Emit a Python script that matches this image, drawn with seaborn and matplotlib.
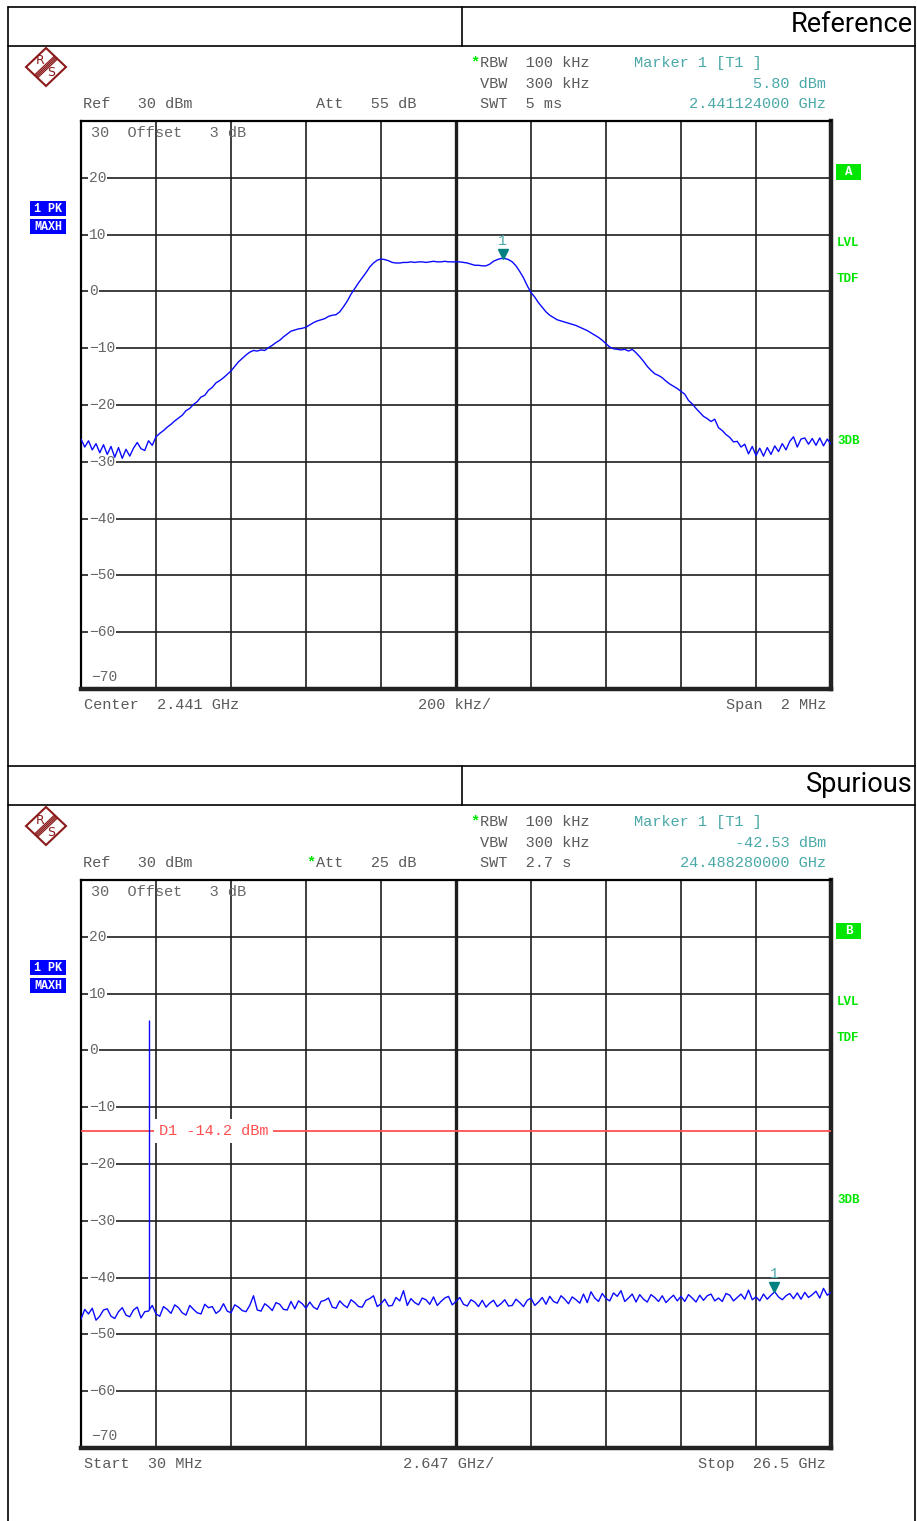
import numpy as np
import matplotlib.pyplot as plt
import seaborn as sns
from matplotlib.patches import Polygon, Rectangle
from matplotlib.lines import Line2D

W, H = 917, 1521

# ---------------- data: in-band "Reference" sweep (201 points over the span) ---------------- #
ref_center_ghz = 2.441
ref_span_ghz = 0.002
ref_level_dbm = [
    -26.0, -27.4, -26.3, -27.9, -26.8, -28.4, -27.0, -28.7, -27.3, -29.2,
    -27.5, -29.4, -27.8, -29.0, -27.6, -26.6, -27.7, -28.0, -26.3, -27.1,
    -25.6, -25.0, -24.5, -23.9, -23.4, -22.8, -22.3, -21.8, -21.0, -20.6,
    -19.9, -19.4, -18.6, -18.3, -17.4, -16.9, -16.1, -15.7, -15.2, -14.6,
    -14.0, -13.2, -12.4, -11.8, -11.2, -10.7, -10.4, -10.5, -10.3, -10.4,
    -9.9, -9.5, -9.0, -8.6, -8.0, -7.5, -7.0, -6.8, -6.6, -6.5,
    -6.3, -5.9, -5.5, -5.2, -5.0, -4.8, -4.4, -4.2, -4.1, -3.6,
    -2.7, -1.7, -0.5, 0.5, 1.5, 2.4, 3.3, 4.3, 5.0, 5.5,
    5.7, 5.6, 5.4, 5.1, 5.0, 5.0, 5.1, 5.1, 5.2, 5.1,
    5.2, 5.2, 5.1, 5.2, 5.3, 5.2, 5.2, 5.3, 5.2, 5.2,
    5.2, 5.2, 5.1, 5.0, 4.8, 4.6, 4.6, 4.5, 4.5, 4.8,
    5.3, 5.6, 5.8, 5.8, 5.6, 5.2, 4.5, 3.5, 2.4, 1.0,
    -0.2, -1.0, -2.0, -2.8, -3.6, -4.2, -4.6, -5.0, -5.2, -5.4,
    -5.6, -5.8, -6.0, -6.3, -6.6, -6.9, -7.3, -7.7, -8.1, -8.6,
    -9.2, -9.8, -10.1, -10.2, -10.3, -10.2, -10.5, -10.2, -10.8, -11.5,
    -12.3, -13.2, -13.9, -14.5, -14.8, -15.2, -15.8, -16.3, -16.7, -17.1,
    -17.6, -18.1, -19.2, -19.8, -20.6, -21.3, -22.0, -22.4, -22.9, -22.5,
    -24.0, -24.5, -25.2, -25.7, -26.5, -26.4, -27.4, -26.9, -28.6, -27.3,
    -28.9, -27.6, -29.0, -27.5, -28.7, -27.2, -28.2, -26.8, -27.9, -26.4,
    -25.6, -27.4, -26.0, -25.8, -26.9, -25.9, -27.1, -25.8, -27.2, -26.0,
    -26.9,
]
ref_marker_ghz = 2.441124
ref_marker_dbm = 5.80

# ---------------- data: "Spurious" sweep (noise floor, 201 points) ---------------- #
spur_start_ghz = 0.03
spur_stop_ghz = 26.5
spur_level_dbm = [
    -47.3, -45.6, -46.4, -45.4, -47.5, -46.8, -45.7, -45.5, -46.8, -47.2,
    -46.0, -45.3, -46.6, -46.9, -45.7, -45.2, -47.1, -46.0, -45.9, -44.9,
    -46.4, -46.8, -45.1, -45.6, -46.3, -44.8, -45.3, -46.2, -46.6, -44.9,
    -45.6, -46.2, -46.4, -44.7, -45.3, -45.1, -46.3, -45.8, -44.6, -45.9,
    -46.2, -44.8, -45.2, -45.8, -46.0, -44.9, -43.2, -45.7, -45.9, -44.6,
    -45.1, -45.8, -44.4, -44.7, -45.6, -45.7, -44.2, -45.5, -44.1, -44.6,
    -45.4, -44.3, -45.2, -45.6, -44.2, -44.0, -43.6, -45.2, -45.4, -44.1,
    -44.8, -45.3, -43.9, -44.4, -45.1, -45.2, -44.0, -43.7, -43.2, -45.1,
    -44.6, -43.8, -45.0, -44.9, -43.5, -44.1, -42.3, -44.9, -43.7, -44.4,
    -44.8, -43.6, -43.9, -44.7, -43.4, -44.9, -44.2, -43.6, -43.3, -44.8,
    -44.2, -43.5, -44.7, -45.0, -43.9, -44.3, -45.1, -44.0, -45.2, -44.5,
    -44.0, -45.1, -44.6, -43.9, -45.0, -44.9, -43.8, -44.4, -45.1, -44.0,
    -43.6, -44.9, -44.3, -43.5, -44.7, -43.3, -44.2, -44.5, -43.2, -43.8,
    -44.6, -43.4, -43.9, -44.5, -42.9, -44.4, -42.5, -43.6, -44.2, -42.8,
    -43.7, -44.1, -42.7, -43.3, -42.3, -44.2, -43.6, -42.9, -44.3, -43.0,
    -43.8, -44.3, -43.0, -43.5, -44.2, -43.2, -44.4, -43.7, -43.1, -44.1,
    -43.3, -44.2, -43.0, -43.6, -44.3, -43.1, -44.0, -43.2, -42.9, -44.1,
    -43.6, -44.2, -42.8, -43.1, -44.1, -43.5, -42.9, -43.8, -42.2, -43.9,
    -43.4, -44.1, -42.9, -43.8, -43.1, -42.5, -43.4, -43.9, -43.2, -42.8,
    -43.7, -42.7, -43.8, -42.6, -43.5, -43.0, -42.4, -43.6, -41.9, -43.1,
    -42.6,
]
carrier_ghz = 2.441
carrier_floor_dbm = -45.5
carrier_peak_dbm = 5.4
limit_dbm = -14.2
spur_marker_ghz = 24.48828
spur_marker_dbm = -42.53

y_labels = [20, 10, 0, -10, -20, -30, -40, -50, -60]

# colours / fonts
MONO = "Liberation Mono"
FS = 11
GREY = "#5a5a5a"
TEAL = "#4aa8a8"
GREEN = "#00e600"
TRACE = "#0a0aff"

sns.set_theme(style="white")
plt.rcParams["font.family"] = ["DejaVu Sans"]

fig = plt.figure(figsize=(W / 100, H / 100), dpi=100)
fig.patch.set_facecolor("white")


def P(x, y):
    return x / W, 1 - y / H


def fline(x0, y0, x1, y1, **kw):
    (a, b), (c, d) = P(x0, y0), P(x1, y1)
    fig.add_artist(Line2D([a, c], [b, d], transform=fig.transFigure, **kw))


def ftext(x, y, s, **kw):
    kw.setdefault("family", MONO)
    kw.setdefault("fontsize", FS)
    kw.setdefault("color", GREY)
    kw.setdefault("va", "center")
    fig.text(*P(x, y), s, **kw)


def fbox(x, y, w, h, color):
    fig.add_artist(Rectangle(P(x, y + h), w / W, h / H, transform=fig.transFigure,
                             facecolor=color, edgecolor="none"))


def logo(dy):
    cx, cy = 46, 67 + dy
    red = "#8b1a1a"
    pts = [P(cx, cy - 19), P(cx + 20, cy), P(cx, cy + 19), P(cx - 20, cy)]
    fig.add_artist(Polygon(pts, closed=True, fill=False, edgecolor=red,
                           lw=1.5, transform=fig.transFigure))
    d = np.array([-10.0, 9.5])
    n = np.array([9.5, 10.0]) / np.hypot(9.5, 10.0)
    for off in (-2.1, -0.7, 0.7, 2.1):
        a = np.array([cx, cy]) + d + n * off
        b = np.array([cx, cy]) - d + n * off
        fline(a[0], a[1], b[0], b[1], color=red, lw=0.9)
    ftext(cx - 6, cy - 6, "R", color=red, fontsize=9, ha="center", family="DejaVu Sans")
    ftext(cx + 5, cy + 6, "S", color=red, fontsize=9, ha="center", family="DejaVu Sans")


def panel(dy, title, att_star, att, swt, mk_val, mk_freq, trace_letter):
    # header row of the report table
    fline(8, 7 + dy, 915, 7 + dy, color="black", lw=1.2)
    fline(8, 46 + dy, 915, 46 + dy, color="black", lw=1.2)
    fline(462, 7 + dy, 462, 46 + dy, color="black", lw=1.2)
    ftext(913, 25 + dy, title, family="Roboto", fontsize=19.5, color="black", ha="right")

    logo(dy)
    ftext(470, 62 + dy, "*", color=GREEN, fontsize=FS, weight="bold")
    ftext(480, 63 + dy, "RBW  100 kHz")
    ftext(480, 84 + dy, "VBW  300 kHz")
    ftext(480, 104 + dy, swt)
    ftext(83, 104 + dy, "Ref   30 dBm")
    if att_star:
        ftext(306, 103 + dy, "*", color=GREEN, fontsize=FS, weight="bold")
    ftext(316, 104 + dy, att)
    ftext(634, 63 + dy, "Marker 1 [T1 ]", color=TEAL)
    ftext(826, 84 + dy, mk_val, color=TEAL, ha="right")
    ftext(826, 104 + dy, mk_freq, color=TEAL, ha="right")

    fbox(30, 201 + dy, 36, 15, "#0000ff")
    fbox(30, 219 + dy, 36, 15, "#0000ff")
    ftext(48, 209 + dy, "1 PK", color="white", fontsize=8.5, ha="center", weight="bold")
    ftext(48, 227 + dy, "MAXH", color="white", fontsize=8.5, ha="center", weight="bold")

    fbox(836, 164 + dy, 25, 16, GREEN)
    ftext(848.5, 172 + dy, trace_letter, color="white", fontsize=9, ha="center", weight="bold")
    for lab, yy in (("LVL", 243), ("TDF", 279), ("3DB", 441)):
        ftext(837, yy + dy, lab, color=GREEN, fontsize=9, weight="bold")

    x0, y0 = P(81, 689 + dy)
    ax = fig.add_axes([x0, y0, 750 / W, 568 / H])
    ax.set_facecolor("white")
    ax.set_ylim(-70, 30)
    ax.set_yticks(np.arange(-70, 31, 10))
    ax.tick_params(length=0, labelbottom=False, labelleft=False)
    ax.grid(True, color="#1e1e1e", lw=1.2)
    for side in ("top", "left"):
        ax.spines[side].set_linewidth(1.6)
        ax.spines[side].set_color("black")
    for side in ("right", "bottom"):
        ax.spines[side].set_linewidth(3.2)
        ax.spines[side].set_color("#222222")

    ytr = ax.get_yaxis_transform()
    for v in y_labels:
        ax.text(0.0107, v, f"{v}".replace("-", "\u2212"), transform=ytr, family=MONO,
                fontsize=10.5, color="#666666", va="center", ha="left", zorder=3,
                bbox=dict(facecolor="white", edgecolor="none", pad=0.6))
    ax.text(0.0133, 0.979, "30  Offset   3 dB", transform=ax.transAxes, family=MONO,
            fontsize=FS, color="#666666", va="center")
    ax.text(0.0133, 0.021, "\u221270", transform=ax.transAxes, family=MONO,
            fontsize=10.5, color="#666666", va="center")
    return ax


def marker(ax, f, level):
    ax.plot([f], [level + 0.8], marker="v", color="#008080", ms=6.5, zorder=5)
    ax.text(f, level + 3.1, "1", color=TEAL, family=MONO, fontsize=10.5,
            ha="center", va="center", zorder=5)


# ---------------- panel 1: reference ---------------- #
ax1 = panel(0, "Reference", False, "Att   55 dB", "SWT  5 ms", "5.80 dBm", "2.441124000 GHz", "A")
f_ref = np.linspace(ref_center_ghz - ref_span_ghz / 2, ref_center_ghz + ref_span_ghz / 2, len(ref_level_dbm))
ax1.set_xlim(f_ref[0], f_ref[-1])
ax1.set_xticks(np.linspace(f_ref[0], f_ref[-1], 11))
ax1.axvline(ref_center_ghz, color="#1e1e1e", lw=2.4, zorder=1)
sns.lineplot(x=f_ref, y=ref_level_dbm, ax=ax1, color=TRACE, lw=1.0, zorder=4)
marker(ax1, ref_marker_ghz, ref_marker_dbm)
ftext(84, 705, "Center  2.441 GHz")
ftext(454, 705, "200 kHz/", ha="center")
ftext(826, 705, "Span  2 MHz", ha="right")

# ---------------- panel 2: spurious ---------------- #
ax2 = panel(759, "Spurious", True, "Att   25 dB", "SWT  2.7 s", "-42.53 dBm", "24.488280000 GHz", "B")
f_spur = np.linspace(spur_start_ghz, spur_stop_ghz, len(spur_level_dbm))
ax2.set_xlim(spur_start_ghz, spur_stop_ghz)
ax2.set_xticks(np.linspace(spur_start_ghz, spur_stop_ghz, 11))
ax2.axvline((spur_start_ghz + spur_stop_ghz) / 2, color="#1e1e1e", lw=2.4, zorder=1)
ax2.axhline(limit_dbm, color="#ff5050", lw=1.3, zorder=3)
ax2.text(0.104, limit_dbm, "D1 -14.2 dBm", transform=ax2.get_yaxis_transform(), family=MONO,
         fontsize=FS, color="#ff5050", va="center", zorder=3,
         bbox=dict(facecolor="white", edgecolor="none", pad=3.5))
sns.lineplot(x=f_spur, y=spur_level_dbm, ax=ax2, color=TRACE, lw=1.0, zorder=4)
ax2.vlines(carrier_ghz, carrier_floor_dbm, carrier_peak_dbm, color=TRACE, lw=1.0, zorder=4)
marker(ax2, spur_marker_ghz, spur_marker_dbm)
ftext(84, 1464, "Start  30 MHz")
ftext(449, 1464, "2.647 GHz/", ha="center")
ftext(826, 1464, "Stop  26.5 GHz", ha="right")

# outer frame of the report page
fline(8, 7, 8, H, color="black", lw=1.2)
fline(915, 7, 915, H, color="black", lw=1.2)

fig.savefig("out.png", dpi=100, facecolor="white")
